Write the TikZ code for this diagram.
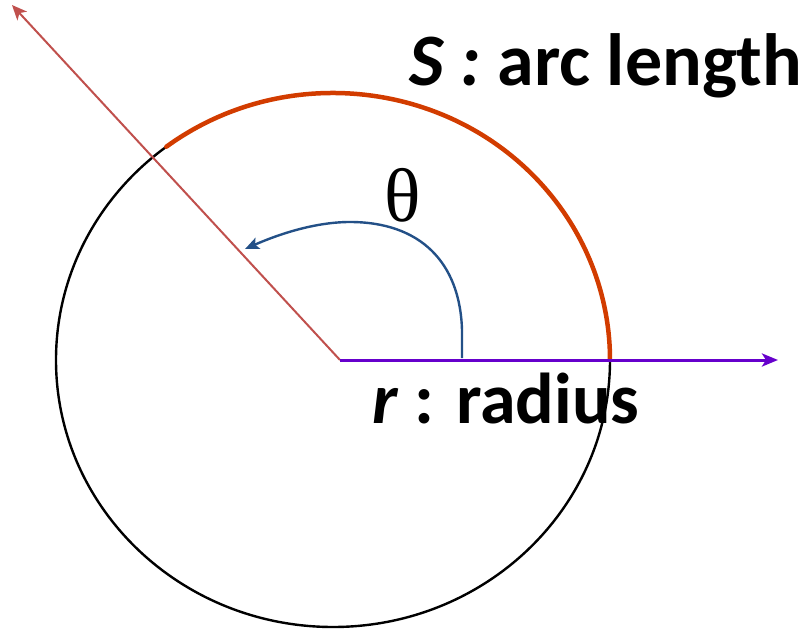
\documentclass[tikz,border=0pt]{standalone}
\usepackage{fontspec}
\setmainfont{Carlito}
\newfontfamily\thetafont{Liberation Serif}
\usetikzlibrary{arrows.meta}
\definecolor{radred}{RGB}{192,80,77}
\definecolor{arcorange}{RGB}{210,60,0}
\definecolor{angblue}{RGB}{35,80,135}
\definecolor{axpurple}{RGB}{102,0,204}
\tikzset{
  lbl/.style={anchor=base west, inner sep=0pt, font=\fontsize{72}{80}\selectfont\bfseries},
}
\begin{document}
\begin{tikzpicture}[x=1pt,y=-1pt]
\useasboundingbox (0,0) rectangle (809,629);
\coordinate (C) at (333,360);
\coordinate (O) at (340,360);
\coordinate (Rtip) at (12,5);
\coordinate (Xtip) at (778,360);
\coordinate (Bs) at (462,358);
\coordinate (Bm) at (462,330);
\coordinate (Bt) at (350,222);
\coordinate (Btip) at (245,249);
% circle
\draw[line width=2.4pt] (C) ellipse [x radius=277, y radius=267];
% arc length
\draw[arcorange, line width=4.5pt, line cap=round] ([shift={(127:277 and -267)}]C) arc[start angle=127, end angle=0, x radius=277, y radius=-267];
% radius line to terminal side
\draw[radred, line width=2pt, -{Stealth[length=15pt, width=13pt, inset=4pt]}] (O) -- (Rtip);
% horizontal axis
\draw[axpurple, line width=3pt, -{Stealth[length=16pt, width=13pt, inset=4pt]}] (O) -- (Xtip);
% angle arrow
\draw[angblue, line width=2.4pt, -{Stealth[length=14pt, width=12pt, inset=3pt]}] (Bs) -- (Bm) .. controls (460,262) and (420,222) .. (Bt) .. controls (310,222) and (270,238) .. (Btip);
% labels
\node[anchor=center, inner sep=0pt, font=\thetafont\fontsize{76}{80}\selectfont] (theta) at (403,195) {θ};
\node[lbl, font=\fontsize{74}{80}\selectfont\bfseries] (slbl) at (409,85) {\textit{S :} arc length};
\node[lbl] (rlbl) at (372,423) {\textit{r} : radius};
\end{tikzpicture}
\end{document}
